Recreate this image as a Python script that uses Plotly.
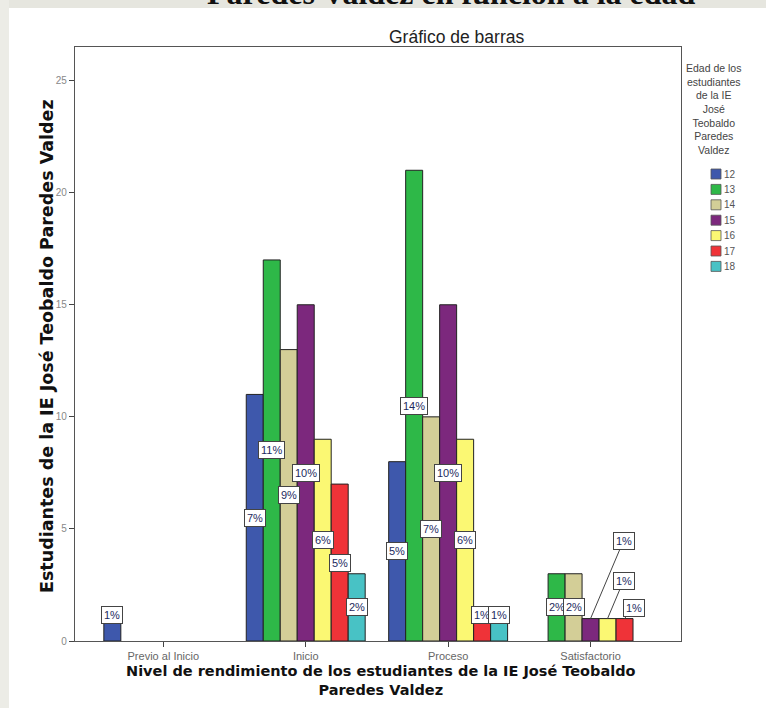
import plotly.graph_objects as go

# ---------------- data ----------------
categories = ["Previo al Inicio", "Inicio", "Proceso", "Satisfactorio"]
ages = ["12", "13", "14", "15", "16", "17", "18"]

counts_12 = [1, 11, 8, 0]
counts_13 = [0, 17, 21, 3]
counts_14 = [0, 13, 10, 3]
counts_15 = [0, 15, 15, 1]
counts_16 = [0, 9, 9, 1]
counts_17 = [0, 7, 1, 1]
counts_18 = [0, 3, 1, 0]

pct_12 = ["1%", "7%", "5%", ""]
pct_13 = ["", "11%", "14%", "2%"]
pct_14 = ["", "9%", "7%", "2%"]
pct_15 = ["", "10%", "10%", "1%"]
pct_16 = ["", "6%", "6%", "1%"]
pct_17 = ["", "5%", "1%", "1%"]
pct_18 = ["", "2%", "1%", ""]

y_ticks = [0, 5, 10, 15, 20, 25]

series_counts = [counts_12, counts_13, counts_14, counts_15, counts_16, counts_17, counts_18]
series_pct = [pct_12, pct_13, pct_14, pct_15, pct_16, pct_17, pct_18]
colors = ["#3E58AC", "#2EB848", "#D3CE97", "#7C287D", "#FBF873", "#EF3338", "#48C2C5"]

# ---------------- layout geometry ----------------
W, H = 766, 708
L, R, T, B = 75, 681, 47, 641
BARGAP = 0.165
SLOT = (1 - BARGAP) / len(ages)
SANS = "Liberation Sans, Arial, sans-serif"
WIDE = "DejaVu Sans, Verdana, sans-serif"


def pxx(x):
    return (x - L) / (R - L)


def pxy(y):
    return (B - y) / (B - T)


fig = go.Figure()
x_idx = list(range(len(categories)))
for j, (age, vals) in enumerate(zip(ages, series_counts)):
    fig.add_trace(go.Bar(
        x=x_idx,
        y=[v if v else None for v in vals],
        name=age,
        marker=dict(color=colors[j], line=dict(color="#222222", width=1)),
        showlegend=False,
        hoverinfo="x+y+name",
    ))

annotations = []
label_font = dict(family=SANS, size=11, color="#1d2a5e")
# callout offsets (pixels) for crowded labels in "Satisfactorio"
callouts = {(3, 3): (33, -78), (3, 4): (16, -38), (3, 5): (9, -11)}
for j, (vals, labs) in enumerate(zip(series_counts, series_pct)):
    for i, (v, lab) in enumerate(zip(vals, labs)):
        if not lab:
            continue
        xc = i + (j - (len(ages) - 1) / 2) * SLOT
        if (i, j) in callouts:
            ax, ay = callouts[(i, j)]
            annotations.append(dict(
                x=xc, y=v, xref="x", yref="y", text=lab, showarrow=True,
                ax=ax, ay=ay, arrowhead=0, arrowwidth=1, arrowcolor="#444444",
                bgcolor="white", bordercolor="#444444", borderwidth=1, borderpad=2,
                font=label_font,
            ))
        else:
            yc = v / 2 if v >= 2 else 1.15
            annotations.append(dict(
                x=xc, y=yc, xref="x", yref="y", text=lab, showarrow=False,
                xanchor="center", yanchor="middle",
                bgcolor="white", bordercolor="#444444", borderwidth=1, borderpad=2,
                font=label_font,
            ))


def paper_note(x, y, text, **kw):
    d = dict(x=pxx(x), y=pxy(y), xref="paper", yref="paper", text=text,
             showarrow=False, xanchor="center", yanchor="middle")
    d.update(kw)
    annotations.append(d)


# chart title
paper_note(456, 37, "Gráfico de barras", font=dict(family=SANS, size=17.5, color="#222222"))
# cut-off document caption at the very top
paper_note(451, 13, "<b>Paredes Valdez en función a la edad</b>", yanchor="bottom",
           font=dict(family="Liberation Serif, Times New Roman, serif", size=32, color="#111111"))
# axis titles
paper_note(47, 346, "<b>Estudiantes de la IE José Teobaldo Paredes Valdez</b>", textangle=-90,
           font=dict(family=WIDE, size=17.5, color="#111111"))
paper_note(381, 680, "<b>Nivel de rendimiento de los estudiantes de la IE José Teobaldo<br>Paredes Valdez</b>",
           font=dict(family=WIDE, size=14.5, color="#111111"))
# legend title
paper_note(713, 60, "Edad de los<br>estudiantes<br>de la IE<br>José<br>Teobaldo<br>Paredes<br>Valdez",
           yanchor="top", align="center", font=dict(family=SANS, size=10.5, color="#444444"))

shapes = [
    dict(type="rect", xref="paper", yref="paper", x0=pxx(0), x1=pxx(W), y0=pxy(8), y1=pxy(0),
         fillcolor="#e6e6df", line=dict(width=0), layer="below"),
    dict(type="rect", xref="paper", yref="paper", x0=pxx(0), x1=pxx(9), y0=pxy(H), y1=pxy(0),
         fillcolor="#ecece6", line=dict(width=0), layer="below"),
]
# legend (keys + labels)
for j, age in enumerate(ages):
    yc = 174 + j * 15.4
    shapes.append(dict(type="rect", xref="paper", yref="paper",
                       x0=pxx(711), x1=pxx(721), y0=pxy(yc + 5), y1=pxy(yc - 5),
                       fillcolor=colors[j], line=dict(color="#555555", width=0.8)))
    paper_note(722, yc, age, xanchor="left", font=dict(family=SANS, size=10, color="#555555"))

fig.update_layout(
    width=W, height=H,
    margin=dict(l=L, r=W - R, t=T, b=H - B, pad=0),
    paper_bgcolor="white", plot_bgcolor="white",
    barmode="group", bargap=BARGAP, bargroupgap=0,
    annotations=annotations, shapes=shapes,
    font=dict(family=SANS, size=10, color="#666666"),
    xaxis=dict(
        range=[-0.62, 3.635], tickvals=x_idx, ticktext=categories,
        ticks="outside", ticklen=5, tickcolor="#444444",
        showline=True, mirror=True, linecolor="#555555", linewidth=1,
        showgrid=False, zeroline=False, tickfont=dict(size=11, color="#666666"),
    ),
    yaxis=dict(
        range=[0, 26.5], tickvals=y_ticks,
        ticks="outside", ticklen=5, tickcolor="#444444",
        showline=True, mirror=True, linecolor="#555555", linewidth=1.3,
        showgrid=False, zeroline=False, tickfont=dict(size=10, color="#888888"),
    ),
)

fig.write_html("out.html", config={"displayModeBar": False},
               post_script="document.body.style.margin='0';document.body.style.overflow='hidden';")
